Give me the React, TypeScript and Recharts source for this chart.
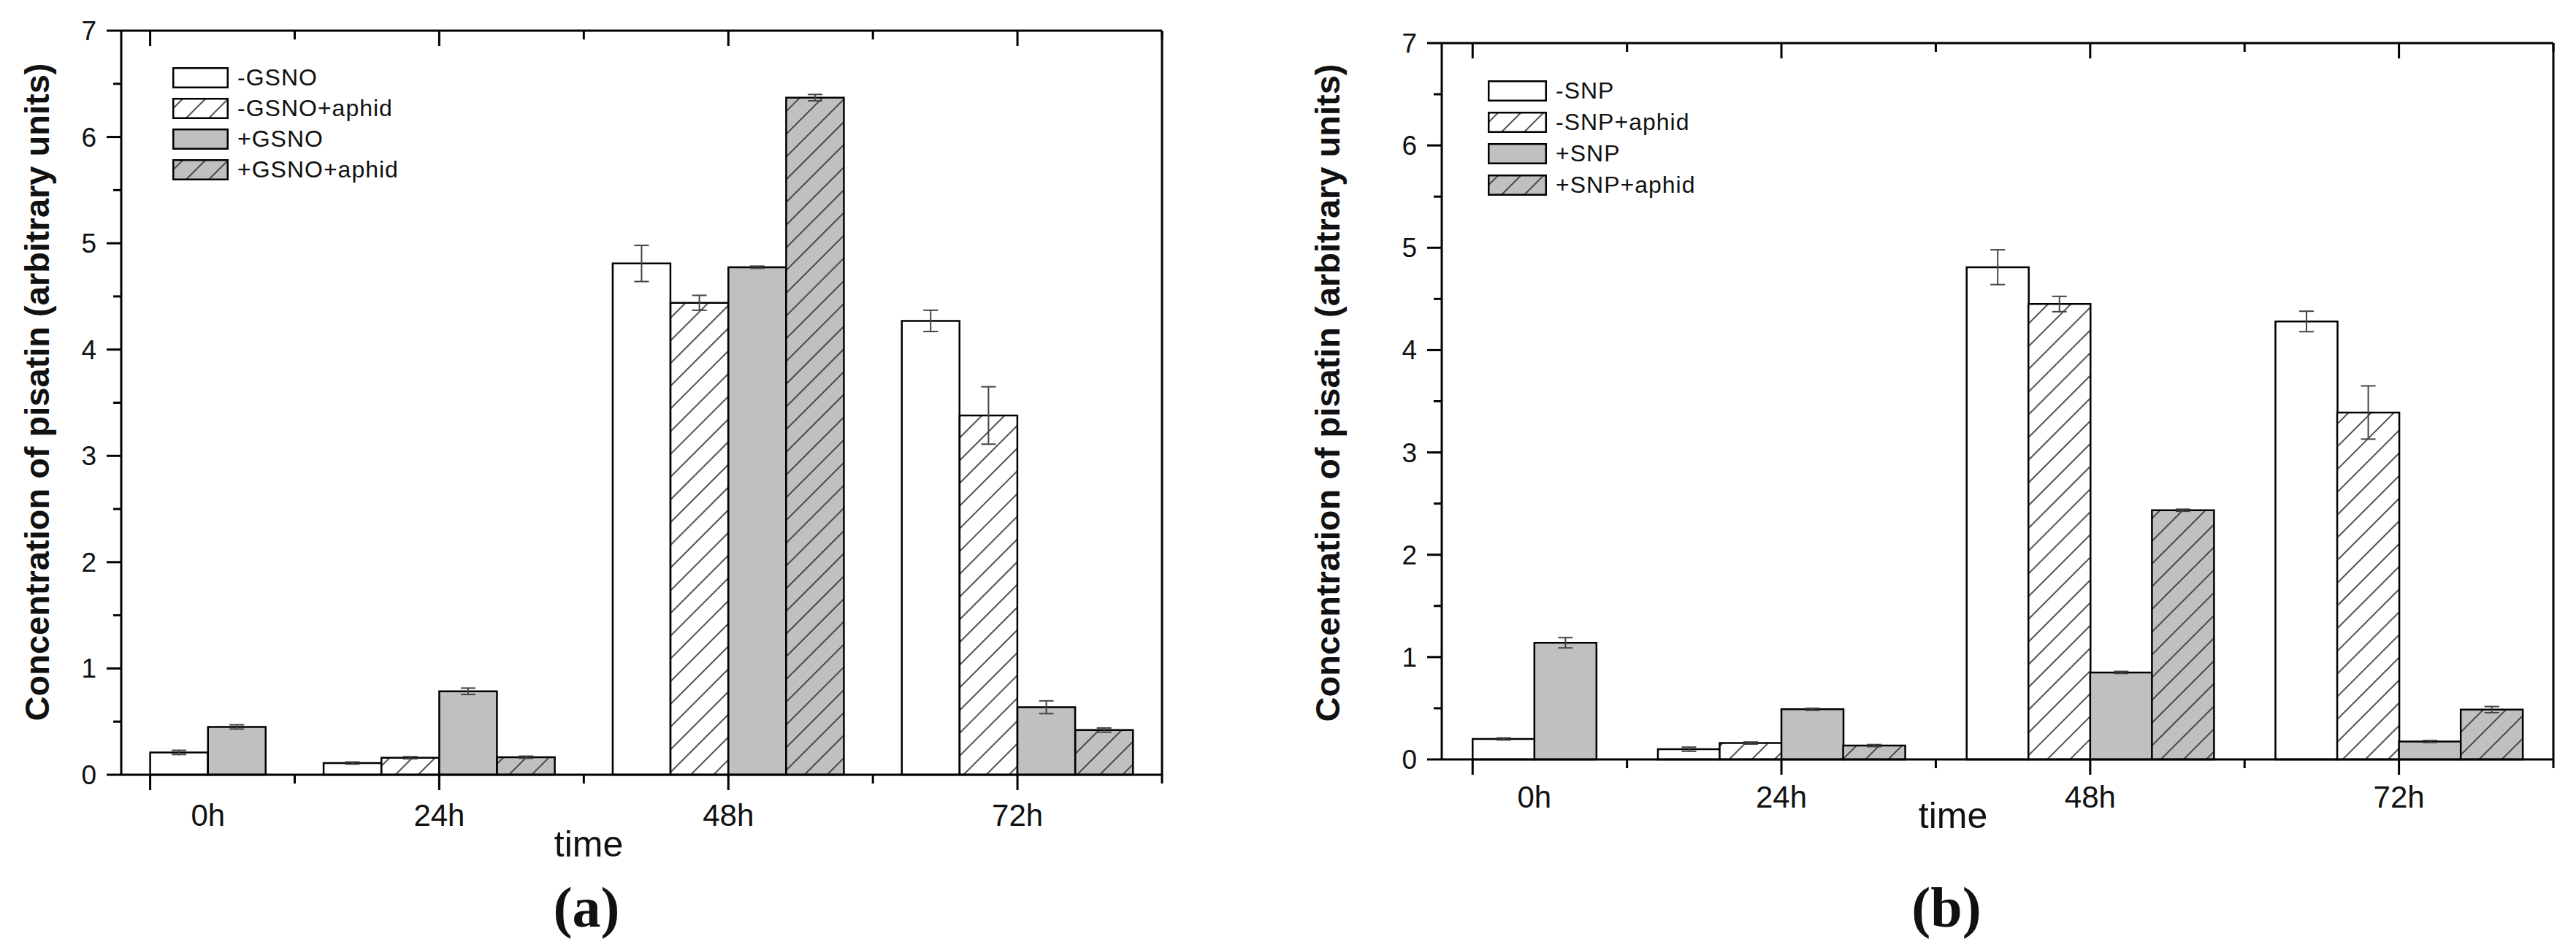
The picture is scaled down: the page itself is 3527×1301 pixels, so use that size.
import React from "react";
import { BarChart, Bar, XAxis, YAxis, ErrorBar } from "recharts";

// sampling times (categories)
const times = ["0h", "24h", "48h", "72h"];

// panel (a) - GSNO treatment
const gsnoNames = ["-GSNO", "-GSNO+aphid", "+GSNO", "+GSNO+aphid"];
const gsnoMinus = [0.21, 0.11, 4.81, 4.27];
const gsnoMinusErr = [0.02, 0.01, 0.17, 0.1];
const gsnoMinusAphid = [null, 0.16, 4.44, 3.38];
const gsnoMinusAphidErr = [null, 0.01, 0.07, 0.27];
const gsnoPlus = [0.45, 0.785, 4.775, 0.635];
const gsnoPlusErr = [0.02, 0.03, 0.01, 0.06];
const gsnoPlusAphid = [null, 0.165, 6.37, 0.42];
const gsnoPlusAphidErr = [null, 0.01, 0.03, 0.02];

// panel (b) - SNP treatment
const snpNames = ["-SNP", "-SNP+aphid", "+SNP", "+SNP+aphid"];
const snpMinus = [0.2, 0.1, 4.81, 4.28];
const snpMinusErr = [0.01, 0.02, 0.17, 0.1];
const snpMinusAphid = [null, 0.16, 4.45, 3.39];
const snpMinusAphidErr = [null, 0.01, 0.075, 0.26];
const snpPlus = [1.14, 0.49, 0.85, 0.175];
const snpPlusErr = [0.05, 0.01, 0.01, 0.01];
const snpPlusAphid = [null, 0.135, 2.435, 0.487];
const snpPlusAphidErr = [null, 0.01, 0.01, 0.03];

// axis ticks
const yTicks = [0, 0.5, 1, 1.5, 2, 2.5, 3, 3.5, 4, 4.5, 5, 5.5, 6, 6.5, 7];
const xMajor = [0.5, 5.5, 10.5, 15.5];
const xMinor = [3, 8, 13, 18];

const SANS = "'Liberation Sans', Arial, sans-serif";
const GREY = "#c0c0c0";

type Num = number | null;

// one slot per bar, one empty slot between time points
function buildRows(values: Num[][], errors: Num[][]) {
  const rows: any[] = [];
  const centres: number[] = [];
  let pos = 0.5;
  times.forEach((_, ti) => {
    const start = pos;
    values.forEach((vals, si) => {
      const v = vals[ti];
      if (v == null) return;
      const row: any = { x: pos + 0.5 };
      row["s" + si] = v;
      row["e" + si] = errors[si][ti];
      rows.push(row);
      pos += 1;
    });
    centres.push((start + pos) / 2);
    pos += 1;
  });
  return { rows, centres, end: pos - 0.5 };
}

const fillFor = (id: string, si: number) =>
  si === 0 ? "#ffffff" : si === 1 ? `url(#${id}-hw)` : si === 2 ? GREY : `url(#${id}-hg)`;

type PanelProps = {
  id: string;
  names: string[];
  values: Num[][];
  errors: Num[][];
  divLeft: number;
  yAxisW: number;
  plotTop: number;
  plotW: number;
  plotH: number;
  titleX: number;
  titleY: number;
  timeX: number;
  timeBase: number;
  labelBase: number;
  legendDx: number;
  legendDy: number;
  legendPitch: number;
  swatchW: number;
  caption: string;
  captionX: number;
};

function Panel(p: PanelProps) {
  const { rows, centres, end } = buildRows(p.values, p.errors);
  const width = p.yAxisW + p.plotW + 31;
  const height = 1301;
  const plotLeft = p.yAxisW;
  const majorSet = new Set(xMajor);
  const markTicks = [...xMajor, ...xMinor].sort((a, b) => a - b);

  const LeftTick = (t: any) => {
    const major = Number.isInteger(t.payload.value);
    return (
      <g>
        <line x1={t.x - (major ? 20 : 11)} x2={t.x} y1={t.y} y2={t.y} stroke="#000" strokeWidth={3} />
        {major && (
          <text x={t.x - 34} y={t.y + 13} textAnchor="end" fontSize={37} fontFamily={SANS} fill="#111">
            {t.payload.value}
          </text>
        )}
      </g>
    );
  };
  const RightTick = (t: any) => {
    const major = Number.isInteger(t.payload.value);
    return <line x1={t.x - (major ? 20 : 11)} x2={t.x} y1={t.y} y2={t.y} stroke="#000" strokeWidth={3} />;
  };
  const BottomTick = (t: any) => {
    const major = majorSet.has(t.payload.value);
    return <line x1={t.x} x2={t.x} y1={t.y} y2={t.y + (major ? 21 : 12)} stroke="#000" strokeWidth={3} />;
  };
  const TopTick = (t: any) => {
    const major = majorSet.has(t.payload.value);
    return <line x1={t.x} x2={t.x} y1={t.y} y2={t.y + (major ? 21 : 12)} stroke="#000" strokeWidth={3} />;
  };
  const LabelTick = (t: any) => {
    const i = centres.indexOf(t.payload.value);
    return (
      <text x={t.x} y={p.labelBase} textAnchor="middle" fontSize={42} fontFamily={SANS} fill="#111">
        {times[i]}
      </text>
    );
  };

  const tx = p.titleX - p.divLeft;
  const timeLocalX = p.timeX - p.divLeft;

  return (
    <>
      <div style={{ position: "absolute", left: p.divLeft, top: 0, width, height }}>
        <BarChart
          width={width}
          height={height}
          data={rows}
          barCategoryGap={0}
          barGap={0}
          margin={{ top: p.plotTop - 1, right: 30, left: 0, bottom: height - p.plotTop - p.plotH - 2 }}
        >
          <defs>
            <pattern id={`${p.id}-hw`} patternUnits="userSpaceOnUse" width={22} height={22} patternTransform="rotate(45)">
              <rect width={22} height={22} fill="#ffffff" />
              <line x1={11} y1={0} x2={11} y2={22} stroke="#333" strokeWidth={1.7} />
            </pattern>
            <pattern id={`${p.id}-hg`} patternUnits="userSpaceOnUse" width={22} height={22} patternTransform="rotate(45)">
              <rect width={22} height={22} fill={GREY} />
              <line x1={11} y1={0} x2={11} y2={22} stroke="#333" strokeWidth={1.7} />
            </pattern>
          </defs>
          <XAxis
            xAxisId={0}
            type="number"
            dataKey="x"
            domain={[0, end]}
            ticks={markTicks}
            interval={0}
            height={1}
            tickSize={0}
            tickMargin={0}
            tickLine={false}
            tick={BottomTick}
            axisLine={{ stroke: "#000", strokeWidth: 3 }}
          />
          <XAxis
            xAxisId="lab"
            type="number"
            dataKey="x"
            domain={[0, end]}
            ticks={centres}
            interval={0}
            height={1}
            tickSize={0}
            tickMargin={0}
            tickLine={false}
            axisLine={false}
            tick={LabelTick}
            label={() => (
              <text x={timeLocalX} y={p.timeBase} textAnchor="middle" fontSize={50} fontFamily={SANS} fill="#111">
                time
              </text>
            )}
          />
          <XAxis
            xAxisId="top"
            orientation="top"
            type="number"
            dataKey="x"
            domain={[0, end]}
            ticks={markTicks}
            interval={0}
            height={1}
            tickSize={0}
            tickMargin={0}
            tickLine={false}
            tick={TopTick}
            axisLine={{ stroke: "#000", strokeWidth: 3 }}
          />
          <YAxis
            yAxisId={0}
            type="number"
            domain={[0, 7]}
            ticks={yTicks}
            interval={0}
            width={p.yAxisW}
            tickSize={0}
            tickMargin={0}
            tickLine={false}
            tick={LeftTick}
            axisLine={{ stroke: "#000", strokeWidth: 3 }}
            label={() => (
              <text
                x={tx}
                y={p.titleY}
                transform={`rotate(-90, ${tx}, ${p.titleY})`}
                textAnchor="middle"
                dominantBaseline="central"
                fontSize={47}
                fontWeight="bold"
                fontFamily={SANS}
                fill="#111"
              >
                Concentration of pisatin (arbitrary units)
              </text>
            )}
          />
          <YAxis
            yAxisId="right"
            orientation="right"
            type="number"
            domain={[0, 7]}
            ticks={yTicks}
            interval={0}
            width={1}
            tickSize={0}
            tickMargin={0}
            tickLine={false}
            tick={RightTick}
            axisLine={{ stroke: "#000", strokeWidth: 3 }}
          />
          {p.names.map((n, si) => (
            <Bar
              key={n}
              dataKey={"s" + si}
              name={n}
              stackId="s"
              fill={fillFor(p.id, si)}
              stroke="#000"
              strokeWidth={2.5}
              isAnimationActive={false}
            >
              <ErrorBar dataKey={"e" + si} width={10} stroke="#444" strokeWidth={2} />
            </Bar>
          ))}
        </BarChart>
      </div>
      <div
        style={{
          position: "absolute",
          left: p.divLeft + plotLeft + p.legendDx,
          top: p.plotTop + p.legendDy - p.legendPitch / 2,
        }}
      >
        {p.names.map((n, si) => (
          <div key={n} style={{ display: "flex", alignItems: "center", height: p.legendPitch }}>
            <svg width={p.swatchW} height={29} style={{ display: "block" }}>
              <rect x={1.25} y={1.25} width={p.swatchW - 2.5} height={26.5} fill={fillFor(p.id, si)} stroke="#000" strokeWidth={2.5} />
            </svg>
            <span style={{ fontFamily: SANS, fontSize: 32, letterSpacing: 1, marginLeft: 12, color: "#111", lineHeight: 1 }}>{n}</span>
          </div>
        ))}
      </div>
      <div
        style={{
          position: "absolute",
          left: p.captionX,
          top: 1243,
          transform: "translate(-50%, -50%)",
          fontFamily: "'Liberation Serif', 'DejaVu Serif', serif",
          fontWeight: "bold",
          fontSize: 78,
          lineHeight: 1,
          color: "#111",
        }}
      >
        {p.caption}
      </div>
    </>
  );
}

export default function App() {
  return (
    <div style={{ position: "absolute", left: 0, top: 0, width: 3527, height: 1301, background: "#fff", overflow: "hidden" }}>
      <Panel
        id="a"
        names={gsnoNames}
        values={[gsnoMinus, gsnoMinusAphid, gsnoPlus, gsnoPlusAphid]}
        errors={[gsnoMinusErr, gsnoMinusAphidErr, gsnoPlusErr, gsnoPlusAphidErr]}
        divLeft={0}
        yAxisW={166}
        plotTop={42}
        plotW={1425}
        plotH={1019}
        titleX={50}
        titleY={537}
        timeX={806}
        timeBase={1173}
        labelBase={1131}
        legendDx={70}
        legendDy={64}
        legendPitch={42}
        swatchW={77}
        caption="(a)"
        captionX={803}
      />
      <Panel
        id="b"
        names={snpNames}
        values={[snpMinus, snpMinusAphid, snpPlus, snpPlusAphid]}
        errors={[snpMinusErr, snpMinusAphidErr, snpPlusErr, snpPlusAphidErr]}
        divLeft={1774}
        yAxisW={200}
        plotTop={59}
        plotW={1522}
        plotH={981}
        titleX={1817}
        titleY={538}
        timeX={2674}
        timeBase={1134}
        labelBase={1106}
        legendDx={63}
        legendDy={65}
        legendPitch={43}
        swatchW={81}
        caption="(b)"
        captionX={2665}
      />
    </div>
  );
}
